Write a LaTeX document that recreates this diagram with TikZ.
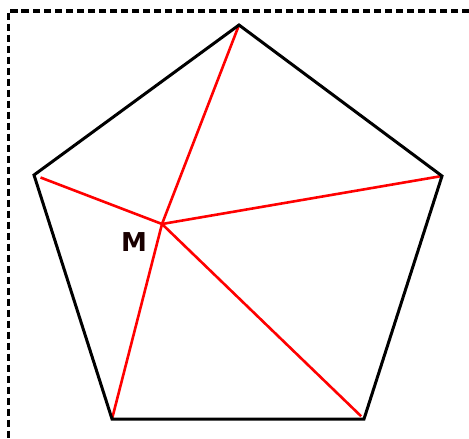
\documentclass[tikz,border=0pt]{standalone}
\usepackage{fontspec}
\newfontfamily\labelfont{DejaVu Sans}
\usepackage{tikz}
\usetikzlibrary{calc}

\begin{document}
\begin{tikzpicture}[
    x=1pt, y=-1pt,
    frame/.style={draw=black, line width=3.2pt, dash pattern=on 7.5pt off 3.5pt},
    edge/.style={draw=black, line width=3pt, line join=miter},
    seg/.style={draw=red, line width=2.6pt},
    ptlabel/.style={font=\labelfont\bfseries\fontsize{26}{26}\selectfont, text=black!90!red, inner sep=0pt}
]
\useasboundingbox (0,0) rectangle (469,439);
\fill[white] (0,0) rectangle (469,439);
\clip (0,0) rectangle (469,439);

% Frame
\draw[frame] (480,11) -- (8.5,11) -- (8.5,450);

% Vertices of the pentagon
\coordinate (top) at (239,25);
\coordinate (right) at (442,176);
\coordinate (bright) at (364,419);
\coordinate (bleft) at (112,419);
\coordinate (left) at (34,175);
\coordinate (M) at (162,224);

\node[ptlabel] (mlabel) at (134,242) {M};

% Segments from M
\draw[seg] (M) -- (top);
\draw[seg] (M) -- (right);
\draw[seg, shorten >=4pt] (M) -- (bright);
\draw[seg] (M) -- (bleft);
\draw[seg, shorten >=7pt] (M) -- (left);

% Pentagon
\draw[edge] (top) -- (right) -- (bright) -- (bleft) -- (left) -- cycle;

\end{tikzpicture}
\end{document}
